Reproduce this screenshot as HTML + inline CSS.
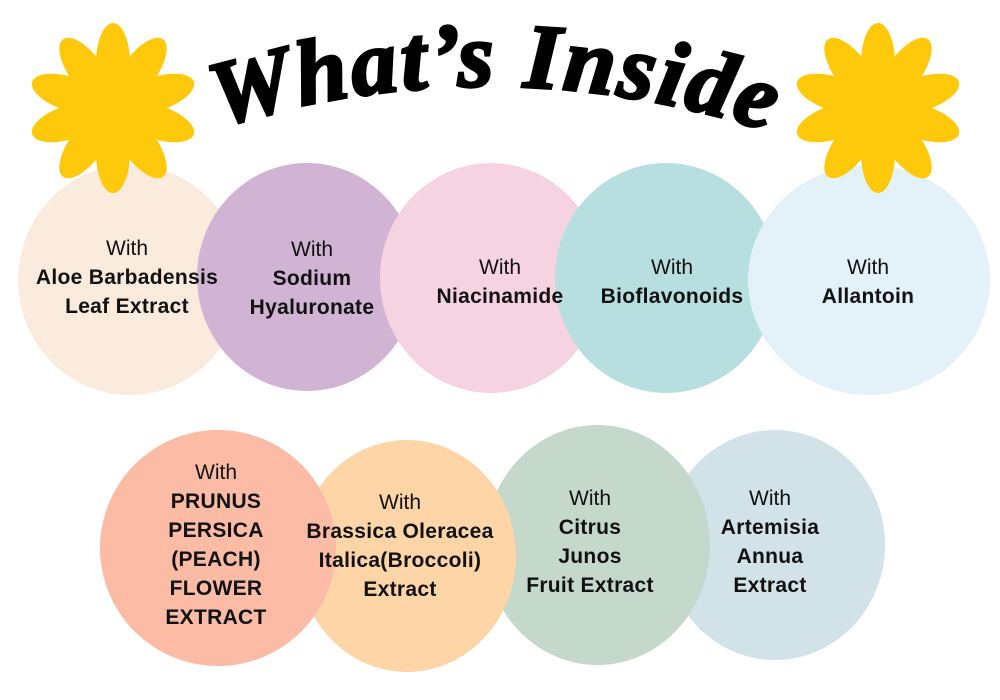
<!DOCTYPE html>
<html><head><meta charset="utf-8"><style>
body{margin:0;width:1000px;height:700px;background:#fff;overflow:hidden;position:relative;font-family:"Liberation Sans",sans-serif}
.c{position:absolute;border-radius:50%}
.t{position:absolute;text-align:center;color:#111;font-size:21px;line-height:29px;width:260px;transform:translateX(-50%)}
.t b{font-weight:bold;font-size:21px;letter-spacing:0.3px}
</style></head><body>
<div class="c" style="left:18px;top:165px;width:224px;height:230px;background:#fbebdc"></div>
<div class="c" style="left:197px;top:163px;width:220px;height:228px;background:#d1b3d4"></div>
<div class="c" style="left:380px;top:163px;width:222px;height:230px;background:#f6d3e1"></div>
<div class="c" style="left:555px;top:163px;width:222px;height:230px;background:#b8dfdf"></div>
<div class="c" style="left:748px;top:165px;width:242px;height:230px;background:#e3f1f8"></div>

<div class="c" style="left:665px;top:430px;width:220px;height:230px;background:#d1e3e9"></div>
<div class="c" style="left:485px;top:425px;width:225px;height:240px;background:#c4d8cc"></div>
<div class="c" style="left:298px;top:440px;width:218px;height:232px;background:#fdd5a6"></div>
<div class="c" style="left:100px;top:430px;width:236px;height:236px;background:#fbbba5"></div>

<svg style="position:absolute;left:0;top:0" width="1000" height="200">
<defs><g id="fl">
<g fill="#fdc90a">
<ellipse cx="0" cy="-45" rx="17" ry="40"/>
<ellipse cx="0" cy="-45" rx="17" ry="40" transform="rotate(36)"/>
<ellipse cx="0" cy="-45" rx="17" ry="40" transform="rotate(72)"/>
<ellipse cx="0" cy="-45" rx="17" ry="40" transform="rotate(108)"/>
<ellipse cx="0" cy="-45" rx="17" ry="40" transform="rotate(144)"/>
<ellipse cx="0" cy="-45" rx="17" ry="40" transform="rotate(180)"/>
<ellipse cx="0" cy="-45" rx="17" ry="40" transform="rotate(216)"/>
<ellipse cx="0" cy="-45" rx="17" ry="40" transform="rotate(252)"/>
<ellipse cx="0" cy="-45" rx="17" ry="40" transform="rotate(288)"/>
<ellipse cx="0" cy="-45" rx="17" ry="40" transform="rotate(324)"/>
<circle r="26"/></g></g>
<path id="arc" d="M195,135 Q495,35 795,140"/></defs>
<use href="#fl" x="113" y="108"/>
<use href="#fl" x="878" y="108"/>
<text font-family="Liberation Serif,serif" font-weight="bold" font-style="italic" font-size="92" fill="#000" stroke="#000" stroke-width="3" letter-spacing="3"><textPath href="#arc" startOffset="50%" text-anchor="middle">What’s Inside</textPath></text>
</svg>

<div class="t" style="left:127px;top:234px">With<br><b>Aloe Barbadensis<br>Leaf Extract</b></div>
<div class="t" style="left:312px;top:235px">With<br><b>Sodium<br>Hyaluronate</b></div>
<div class="t" style="left:500px;top:253px">With<br><b>Niacinamide</b></div>
<div class="t" style="left:672px;top:253px">With<br><b>Bioflavonoids</b></div>
<div class="t" style="left:868px;top:253px">With<br><b>Allantoin</b></div>

<div class="t" style="left:216px;top:458px">With<br><b>PRUNUS<br>PERSICA<br>(PEACH)<br>FLOWER<br>EXTRACT</b></div>
<div class="t" style="left:400px;top:488px">With<br><b>Brassica Oleracea<br>Italica(Broccoli)<br>Extract</b></div>
<div class="t" style="left:590px;top:484px">With<br><b>Citrus<br>Junos<br>Fruit Extract</b></div>
<div class="t" style="left:770px;top:484px">With<br><b>Artemisia<br>Annua<br>Extract</b></div>
</body></html>
